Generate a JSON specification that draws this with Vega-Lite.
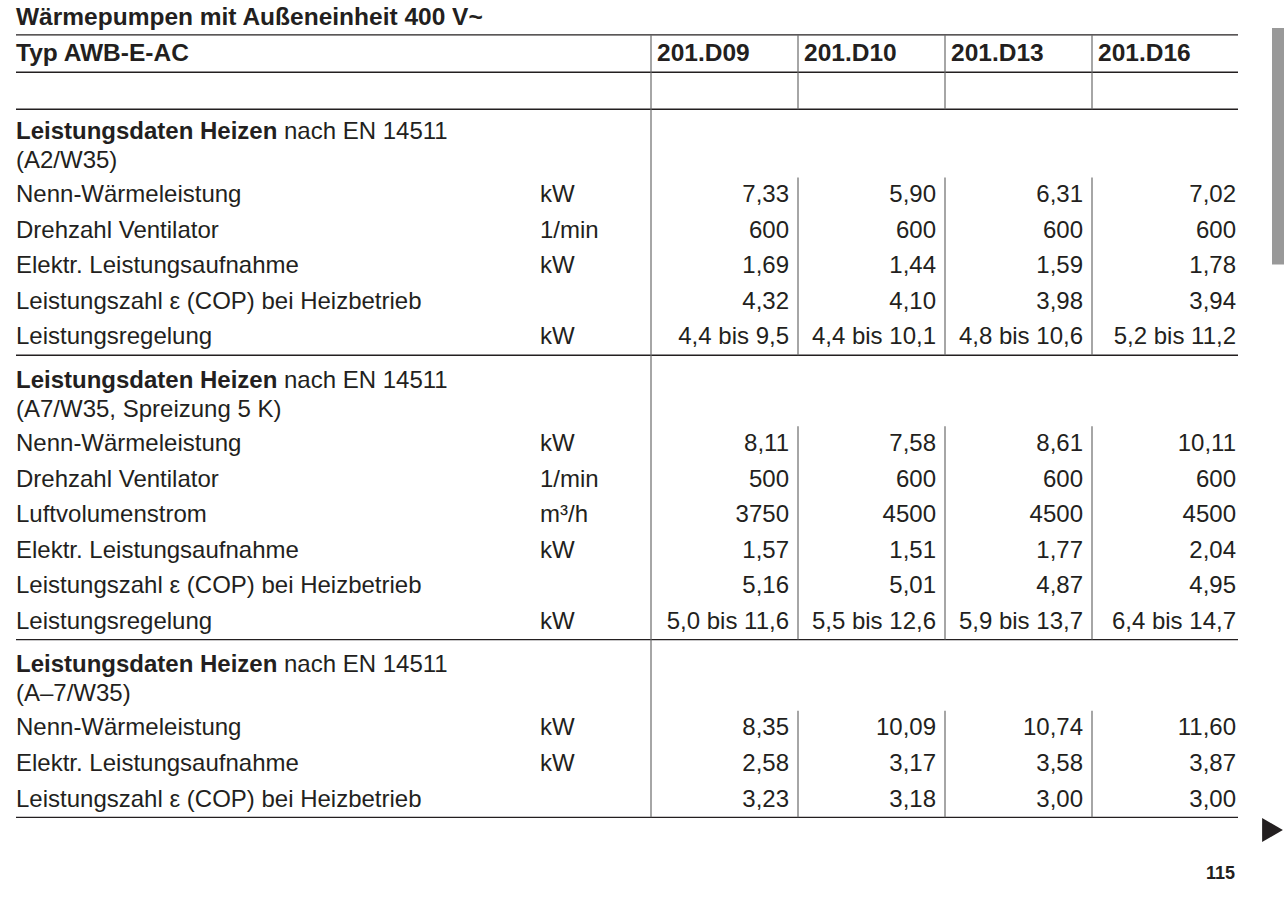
{
  "$schema": "https://vega.github.io/schema/vega-lite/v6.json",
  "width": 1284,
  "height": 898,
  "padding": 0,
  "autosize": {"type": "none"},
  "background": "white",
  "config": {
    "view": {"stroke": null},
    "axis": {"disable": true},
    "text": {"font": "Liberation Sans", "fontSize": 24, "color": "#231f20", "baseline": "middle", "align": "left"}
  },
  "datasets": {
    "title": [{"row": 0, "text": "Wärmepumpen mit Außeneinheit 400 V~"}],
    "header": [{"row": 1.02, "typ": "Typ AWB-E-AC", "D09": "201.D09", "D10": "201.D10", "D13": "201.D13", "D16": "201.D16"}],
    "sections": [
      {"row": 3, "bold": "Leistungsdaten Heizen", "rest": "nach EN 14511", "cond": "(A2/W35)"},
      {"row": 10, "bold": "Leistungsdaten Heizen", "rest": "nach EN 14511", "cond": "(A7/W35, Spreizung 5 K)"},
      {"row": 18, "bold": "Leistungsdaten Heizen", "rest": "nach EN 14511", "cond": "(A–7/W35)"}
    ],
    "rows": [
      {"row": 5, "label": "Nenn-Wärmeleistung", "unit": "kW", "D09": "7,33", "D10": "5,90", "D13": "6,31", "D16": "7,02"},
      {"row": 6, "label": "Drehzahl Ventilator", "unit": "1/min", "D09": "600", "D10": "600", "D13": "600", "D16": "600"},
      {"row": 7, "label": "Elektr. Leistungsaufnahme", "unit": "kW", "D09": "1,69", "D10": "1,44", "D13": "1,59", "D16": "1,78"},
      {"row": 8, "label": "Leistungszahl ε (COP) bei Heizbetrieb", "unit": "", "D09": "4,32", "D10": "4,10", "D13": "3,98", "D16": "3,94"},
      {"row": 9, "label": "Leistungsregelung", "unit": "kW", "D09": "4,4 bis 9,5", "D10": "4,4 bis 10,1", "D13": "4,8 bis 10,6", "D16": "5,2 bis 11,2"},
      {"row": 12, "label": "Nenn-Wärmeleistung", "unit": "kW", "D09": "8,11", "D10": "7,58", "D13": "8,61", "D16": "10,11"},
      {"row": 13, "label": "Drehzahl Ventilator", "unit": "1/min", "D09": "500", "D10": "600", "D13": "600", "D16": "600"},
      {"row": 14, "label": "Luftvolumenstrom", "unit": "m³/h", "D09": "3750", "D10": "4500", "D13": "4500", "D16": "4500"},
      {"row": 15, "label": "Elektr. Leistungsaufnahme", "unit": "kW", "D09": "1,57", "D10": "1,51", "D13": "1,77", "D16": "2,04"},
      {"row": 16, "label": "Leistungszahl ε (COP) bei Heizbetrieb", "unit": "", "D09": "5,16", "D10": "5,01", "D13": "4,87", "D16": "4,95"},
      {"row": 17, "label": "Leistungsregelung", "unit": "kW", "D09": "5,0 bis 11,6", "D10": "5,5 bis 12,6", "D13": "5,9 bis 13,7", "D16": "6,4 bis 14,7"},
      {"row": 20, "label": "Nenn-Wärmeleistung", "unit": "kW", "D09": "8,35", "D10": "10,09", "D13": "10,74", "D16": "11,60"},
      {"row": 21, "label": "Elektr. Leistungsaufnahme", "unit": "kW", "D09": "2,58", "D10": "3,17", "D13": "3,58", "D16": "3,87"},
      {"row": 22, "label": "Leistungszahl ε (COP) bei Heizbetrieb", "unit": "", "D09": "3,23", "D10": "3,18", "D13": "3,00", "D16": "3,00"}
    ],
    "hrules": [{"row": 0.49}, {"row": 1.54}, {"row": 2.58}, {"row": 9.5}, {"row": 17.5}, {"row": 22.5}],
    "vmain": [{"from": 0.49, "to": 22.5}],
    "vsegs": [{"from": 0.49, "to": 2.58}, {"from": 4.5, "to": 9.5}, {"from": 11.5, "to": 17.5}, {"from": 19.5, "to": 22.5}],
    "page": [{"row": 24.09, "text": "115"}],
    "arrow": [{"row": 22.855}],
    "tab": [{"from": 0.295, "to": 6.95}]
  },
  "layer": [
    {
      "data": {"name": "tab"},
      "mark": {"type": "rect", "color": "#999999"},
      "encoding": {
        "x": {"datum": 1272, "type": "quantitative", "scale": {"domain": [0, 1284], "nice": false, "zero": false}},
        "x2": {"datum": 1284},
        "y": {"field": "from", "type": "quantitative", "scale": {"domain": [-0.4923, 24.768], "reverse": true, "nice": false, "zero": false}},
        "y2": {"field": "to"}
      }
    },
    {
      "data": {"name": "hrules"},
      "mark": {"type": "rule", "color": "#231f20", "strokeWidth": 1.4},
      "encoding": {
        "x": {"datum": 16, "type": "quantitative", "scale": {"domain": [0, 1284], "nice": false, "zero": false}},
        "x2": {"datum": 1238},
        "y": {"field": "row", "type": "quantitative", "scale": {"domain": [-0.4923, 24.768], "reverse": true, "nice": false, "zero": false}}
      }
    },
    {
      "data": {"name": "vmain"},
      "mark": {"type": "rule", "color": "#6b6b6b", "strokeWidth": 1.2},
      "encoding": {
        "x": {"datum": 651, "type": "quantitative", "scale": {"domain": [0, 1284], "nice": false, "zero": false}},
        "y": {"field": "from", "type": "quantitative", "scale": {"domain": [-0.4923, 24.768], "reverse": true, "nice": false, "zero": false}},
        "y2": {"field": "to"}
      }
    },
    {
      "data": {"name": "vsegs"},
      "mark": {"type": "rule", "color": "#6b6b6b", "strokeWidth": 1.2},
      "encoding": {
        "x": {"datum": 798, "type": "quantitative", "scale": {"domain": [0, 1284], "nice": false, "zero": false}},
        "y": {"field": "from", "type": "quantitative", "scale": {"domain": [-0.4923, 24.768], "reverse": true, "nice": false, "zero": false}},
        "y2": {"field": "to"}
      }
    },
    {
      "data": {"name": "vsegs"},
      "mark": {"type": "rule", "color": "#6b6b6b", "strokeWidth": 1.2},
      "encoding": {
        "x": {"datum": 945, "type": "quantitative", "scale": {"domain": [0, 1284], "nice": false, "zero": false}},
        "y": {"field": "from", "type": "quantitative", "scale": {"domain": [-0.4923, 24.768], "reverse": true, "nice": false, "zero": false}},
        "y2": {"field": "to"}
      }
    },
    {
      "data": {"name": "vsegs"},
      "mark": {"type": "rule", "color": "#6b6b6b", "strokeWidth": 1.2},
      "encoding": {
        "x": {"datum": 1092, "type": "quantitative", "scale": {"domain": [0, 1284], "nice": false, "zero": false}},
        "y": {"field": "from", "type": "quantitative", "scale": {"domain": [-0.4923, 24.768], "reverse": true, "nice": false, "zero": false}},
        "y2": {"field": "to"}
      }
    },
    {
      "data": {"name": "title"},
      "mark": {"type": "text", "fontWeight": "bold", "fontSize": 24.5},
      "encoding": {
        "x": {"datum": 16, "type": "quantitative", "scale": {"domain": [0, 1284], "nice": false, "zero": false}},
        "y": {"field": "row", "type": "quantitative", "scale": {"domain": [-0.4923, 24.768], "reverse": true, "nice": false, "zero": false}},
        "text": {"field": "text"}
      }
    },
    {
      "data": {"name": "header"},
      "mark": {"type": "text", "fontWeight": "bold", "fontSize": 24.5},
      "encoding": {
        "x": {"datum": 16, "type": "quantitative", "scale": {"domain": [0, 1284], "nice": false, "zero": false}},
        "y": {"field": "row", "type": "quantitative", "scale": {"domain": [-0.4923, 24.768], "reverse": true, "nice": false, "zero": false}},
        "text": {"field": "typ"}
      }
    },
    {
      "data": {"name": "header"},
      "mark": {"type": "text", "fontWeight": "bold", "fontSize": 24.5},
      "encoding": {
        "x": {"datum": 657, "type": "quantitative", "scale": {"domain": [0, 1284], "nice": false, "zero": false}},
        "y": {"field": "row", "type": "quantitative", "scale": {"domain": [-0.4923, 24.768], "reverse": true, "nice": false, "zero": false}},
        "text": {"field": "D09"}
      }
    },
    {
      "data": {"name": "header"},
      "mark": {"type": "text", "fontWeight": "bold", "fontSize": 24.5},
      "encoding": {
        "x": {"datum": 804, "type": "quantitative", "scale": {"domain": [0, 1284], "nice": false, "zero": false}},
        "y": {"field": "row", "type": "quantitative", "scale": {"domain": [-0.4923, 24.768], "reverse": true, "nice": false, "zero": false}},
        "text": {"field": "D10"}
      }
    },
    {
      "data": {"name": "header"},
      "mark": {"type": "text", "fontWeight": "bold", "fontSize": 24.5},
      "encoding": {
        "x": {"datum": 951, "type": "quantitative", "scale": {"domain": [0, 1284], "nice": false, "zero": false}},
        "y": {"field": "row", "type": "quantitative", "scale": {"domain": [-0.4923, 24.768], "reverse": true, "nice": false, "zero": false}},
        "text": {"field": "D13"}
      }
    },
    {
      "data": {"name": "header"},
      "mark": {"type": "text", "fontWeight": "bold", "fontSize": 24.5},
      "encoding": {
        "x": {"datum": 1098, "type": "quantitative", "scale": {"domain": [0, 1284], "nice": false, "zero": false}},
        "y": {"field": "row", "type": "quantitative", "scale": {"domain": [-0.4923, 24.768], "reverse": true, "nice": false, "zero": false}},
        "text": {"field": "D16"}
      }
    },
    {
      "data": {"name": "sections"},
      "mark": {"type": "text", "fontWeight": "bold", "dy": 8},
      "encoding": {
        "x": {"datum": 16, "type": "quantitative", "scale": {"domain": [0, 1284], "nice": false, "zero": false}},
        "y": {"field": "row", "type": "quantitative", "scale": {"domain": [-0.4923, 24.768], "reverse": true, "nice": false, "zero": false}},
        "text": {"field": "bold"}
      }
    },
    {
      "data": {"name": "sections"},
      "mark": {"type": "text", "dy": 8},
      "encoding": {
        "x": {"datum": 284, "type": "quantitative", "scale": {"domain": [0, 1284], "nice": false, "zero": false}},
        "y": {"field": "row", "type": "quantitative", "scale": {"domain": [-0.4923, 24.768], "reverse": true, "nice": false, "zero": false}},
        "text": {"field": "rest"}
      }
    },
    {
      "data": {"name": "sections"},
      "mark": {"type": "text", "dy": 37},
      "encoding": {
        "x": {"datum": 16, "type": "quantitative", "scale": {"domain": [0, 1284], "nice": false, "zero": false}},
        "y": {"field": "row", "type": "quantitative", "scale": {"domain": [-0.4923, 24.768], "reverse": true, "nice": false, "zero": false}},
        "text": {"field": "cond"}
      }
    },
    {
      "data": {"name": "rows"},
      "mark": {"type": "text"},
      "encoding": {
        "x": {"datum": 16, "type": "quantitative", "scale": {"domain": [0, 1284], "nice": false, "zero": false}},
        "y": {"field": "row", "type": "quantitative", "scale": {"domain": [-0.4923, 24.768], "reverse": true, "nice": false, "zero": false}},
        "text": {"field": "label"}
      }
    },
    {
      "data": {"name": "rows"},
      "mark": {"type": "text"},
      "encoding": {
        "x": {"datum": 540, "type": "quantitative", "scale": {"domain": [0, 1284], "nice": false, "zero": false}},
        "y": {"field": "row", "type": "quantitative", "scale": {"domain": [-0.4923, 24.768], "reverse": true, "nice": false, "zero": false}},
        "text": {"field": "unit"}
      }
    },
    {
      "data": {"name": "rows"},
      "mark": {"type": "text", "align": "right"},
      "encoding": {
        "x": {"datum": 789, "type": "quantitative", "scale": {"domain": [0, 1284], "nice": false, "zero": false}},
        "y": {"field": "row", "type": "quantitative", "scale": {"domain": [-0.4923, 24.768], "reverse": true, "nice": false, "zero": false}},
        "text": {"field": "D09"}
      }
    },
    {
      "data": {"name": "rows"},
      "mark": {"type": "text", "align": "right"},
      "encoding": {
        "x": {"datum": 936, "type": "quantitative", "scale": {"domain": [0, 1284], "nice": false, "zero": false}},
        "y": {"field": "row", "type": "quantitative", "scale": {"domain": [-0.4923, 24.768], "reverse": true, "nice": false, "zero": false}},
        "text": {"field": "D10"}
      }
    },
    {
      "data": {"name": "rows"},
      "mark": {"type": "text", "align": "right"},
      "encoding": {
        "x": {"datum": 1083, "type": "quantitative", "scale": {"domain": [0, 1284], "nice": false, "zero": false}},
        "y": {"field": "row", "type": "quantitative", "scale": {"domain": [-0.4923, 24.768], "reverse": true, "nice": false, "zero": false}},
        "text": {"field": "D13"}
      }
    },
    {
      "data": {"name": "rows"},
      "mark": {"type": "text", "align": "right"},
      "encoding": {
        "x": {"datum": 1236, "type": "quantitative", "scale": {"domain": [0, 1284], "nice": false, "zero": false}},
        "y": {"field": "row", "type": "quantitative", "scale": {"domain": [-0.4923, 24.768], "reverse": true, "nice": false, "zero": false}},
        "text": {"field": "D16"}
      }
    },
    {
      "data": {"name": "arrow"},
      "mark": {"type": "point", "shape": "triangle-right", "filled": true, "size": 576, "color": "#231f20", "opacity": 1},
      "encoding": {
        "x": {"datum": 1272.5, "type": "quantitative", "scale": {"domain": [0, 1284], "nice": false, "zero": false}},
        "y": {"field": "row", "type": "quantitative", "scale": {"domain": [-0.4923, 24.768], "reverse": true, "nice": false, "zero": false}}
      }
    },
    {
      "data": {"name": "page"},
      "mark": {"type": "text", "fontWeight": "bold", "fontSize": 18, "align": "right"},
      "encoding": {
        "x": {"datum": 1235, "type": "quantitative", "scale": {"domain": [0, 1284], "nice": false, "zero": false}},
        "y": {"field": "row", "type": "quantitative", "scale": {"domain": [-0.4923, 24.768], "reverse": true, "nice": false, "zero": false}},
        "text": {"field": "text"}
      }
    }
  ]
}
